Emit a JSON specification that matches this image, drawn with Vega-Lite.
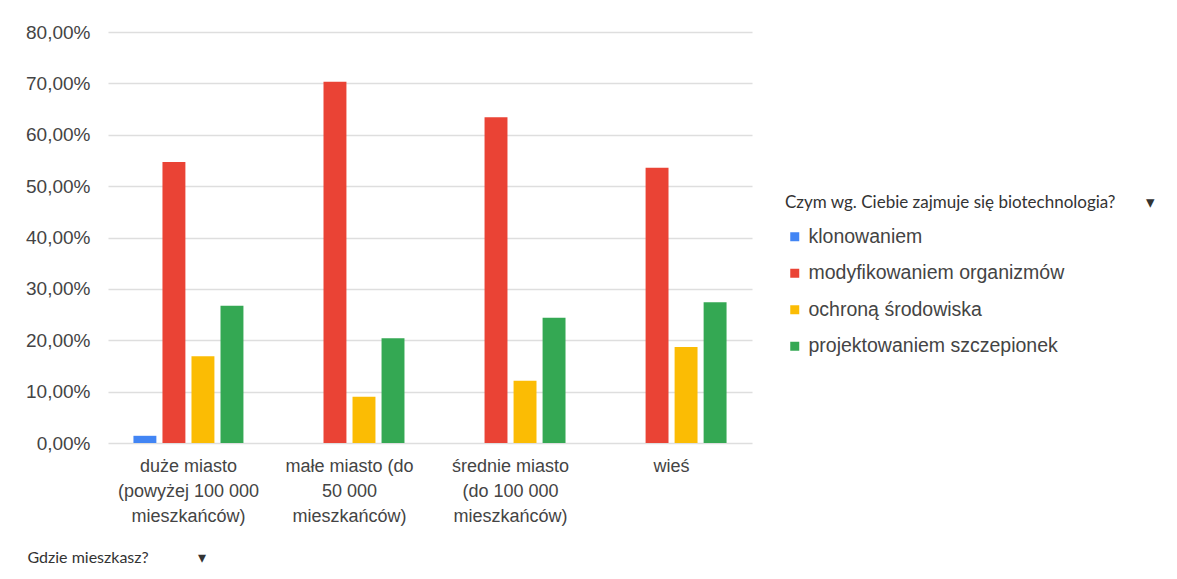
{
  "$schema": "https://vega.github.io/schema/vega-lite/v6.json",
  "autosize": {"type": "none"},
  "padding": {"left": 108, "top": 32, "right": 425, "bottom": 136},
  "width": 644,
  "height": 411,
  "background": "white",
  "data": {
    "values": [
      {"miejsce": "duże miasto (powyżej 100 000 mieszkańców)", "typ": "klonowaniem", "udzial": 0.014},
      {"miejsce": "duże miasto (powyżej 100 000 mieszkańców)", "typ": "modyfikowaniem organizmów", "udzial": 0.547},
      {"miejsce": "duże miasto (powyżej 100 000 mieszkańców)", "typ": "ochroną środowiska", "udzial": 0.169},
      {"miejsce": "duże miasto (powyżej 100 000 mieszkańców)", "typ": "projektowaniem szczepionek", "udzial": 0.267},
      {"miejsce": "małe miasto (do 50 000 mieszkańców)", "typ": "klonowaniem", "udzial": 0},
      {"miejsce": "małe miasto (do 50 000 mieszkańców)", "typ": "modyfikowaniem organizmów", "udzial": 0.703},
      {"miejsce": "małe miasto (do 50 000 mieszkańców)", "typ": "ochroną środowiska", "udzial": 0.090},
      {"miejsce": "małe miasto (do 50 000 mieszkańców)", "typ": "projektowaniem szczepionek", "udzial": 0.204},
      {"miejsce": "średnie miasto (do 100 000 mieszkańców)", "typ": "klonowaniem", "udzial": 0},
      {"miejsce": "średnie miasto (do 100 000 mieszkańców)", "typ": "modyfikowaniem organizmów", "udzial": 0.634},
      {"miejsce": "średnie miasto (do 100 000 mieszkańców)", "typ": "ochroną środowiska", "udzial": 0.121},
      {"miejsce": "średnie miasto (do 100 000 mieszkańców)", "typ": "projektowaniem szczepionek", "udzial": 0.244},
      {"miejsce": "wieś", "typ": "klonowaniem", "udzial": 0},
      {"miejsce": "wieś", "typ": "modyfikowaniem organizmów", "udzial": 0.536},
      {"miejsce": "wieś", "typ": "ochroną środowiska", "udzial": 0.187},
      {"miejsce": "wieś", "typ": "projektowaniem szczepionek", "udzial": 0.274}
    ]
  },
  "mark": {"type": "bar"},
  "encoding": {
    "x": {
      "field": "miejsce",
      "type": "nominal",
      "sort": null,
      "scale": {"paddingInner": 0.317, "paddingOuter": 0.158},
      "axis": {
        "title": "Gdzie mieszkasz?\u00a0\u00a0\u00a0\u00a0\u00a0\u00a0\u00a0\u00a0\u00a0\u00a0\u00a0\u00a0▾",
        "titleX": -81,
        "titleY": 114,
        "titleAlign": "left",
        "titleAnchor": null,
        "titleBaseline": "middle",
        "titleFont": "Lato",
        "titleFontSize": 16,
        "titleFontWeight": "normal",
        "titleColor": "#333333",
        "labelAngle": 0,
        "labelFont": "Liberation Sans",
        "labelFontSize": 18,
        "labelColor": "#444444",
        "labelLineHeight": 25,
        "labelPadding": 14,
        "labelLimit": 0,
        "labelBaseline": "top",
        "ticks": false,
        "domain": false,
        "labelExpr": "datum.label == 'duże miasto (powyżej 100 000 mieszkańców)' ? ['duże miasto', '(powyżej 100 000', 'mieszkańców)'] : datum.label == 'małe miasto (do 50 000 mieszkańców)' ? ['małe miasto (do', '50 000', 'mieszkańców)'] : datum.label == 'średnie miasto (do 100 000 mieszkańców)' ? ['średnie miasto', '(do 100 000', 'mieszkańców)'] : datum.label"
      }
    },
    "xOffset": {
      "field": "typ",
      "type": "nominal",
      "sort": ["klonowaniem", "modyfikowaniem organizmów", "ochroną środowiska", "projektowaniem szczepionek"],
      "scale": {"paddingInner": 0.21, "paddingOuter": 0}
    },
    "y": {
      "field": "udzial",
      "type": "quantitative",
      "scale": {"domain": [0, 0.8], "nice": false},
      "axis": {
        "title": null,
        "values": [0, 0.1, 0.2, 0.3, 0.4, 0.5, 0.6, 0.7, 0.8],
        "labelExpr": "replace(format(datum.value, '.2%'), '.', ',')",
        "labelFont": "Liberation Sans",
        "labelFontSize": 19,
        "labelColor": "#444444",
        "labelPadding": 18,
        "ticks": false,
        "domain": false,
        "grid": true,
        "gridColor": "#dedede",
        "gridWidth": 1.3
      }
    },
    "color": {
      "field": "typ",
      "type": "nominal",
      "sort": ["klonowaniem", "modyfikowaniem organizmów", "ochroną środowiska", "projektowaniem szczepionek"],
      "scale": {
        "domain": ["klonowaniem", "modyfikowaniem organizmów", "ochroną środowiska", "projektowaniem szczepionek"],
        "range": ["#4285F4", "#EA4335", "#FBBC04", "#34A853"]
      },
      "legend": {
        "title": "Czym wg. Ciebie zajmuje się biotechnologia?\u00a0\u00a0\u00a0\u00a0\u00a0\u00a0\u00a0▾",
        "orient": "none",
        "legendX": 677,
        "legendY": 163,
        "titleFont": "Lato",
        "titleFontSize": 17,
        "titleFontWeight": "normal",
        "titleColor": "#333333",
        "titlePadding": 15,
        "titleLimit": 0,
        "symbolType": "square",
        "symbolSize": 81,
        "symbolStrokeWidth": 0,
        "labelFont": "Liberation Sans",
        "labelFontSize": 19.5,
        "labelColor": "#444444",
        "labelOffset": 4,
        "labelLimit": 0,
        "rowPadding": 15.5
      }
    }
  },
  "config": {
    "view": {"stroke": null}
  }
}
